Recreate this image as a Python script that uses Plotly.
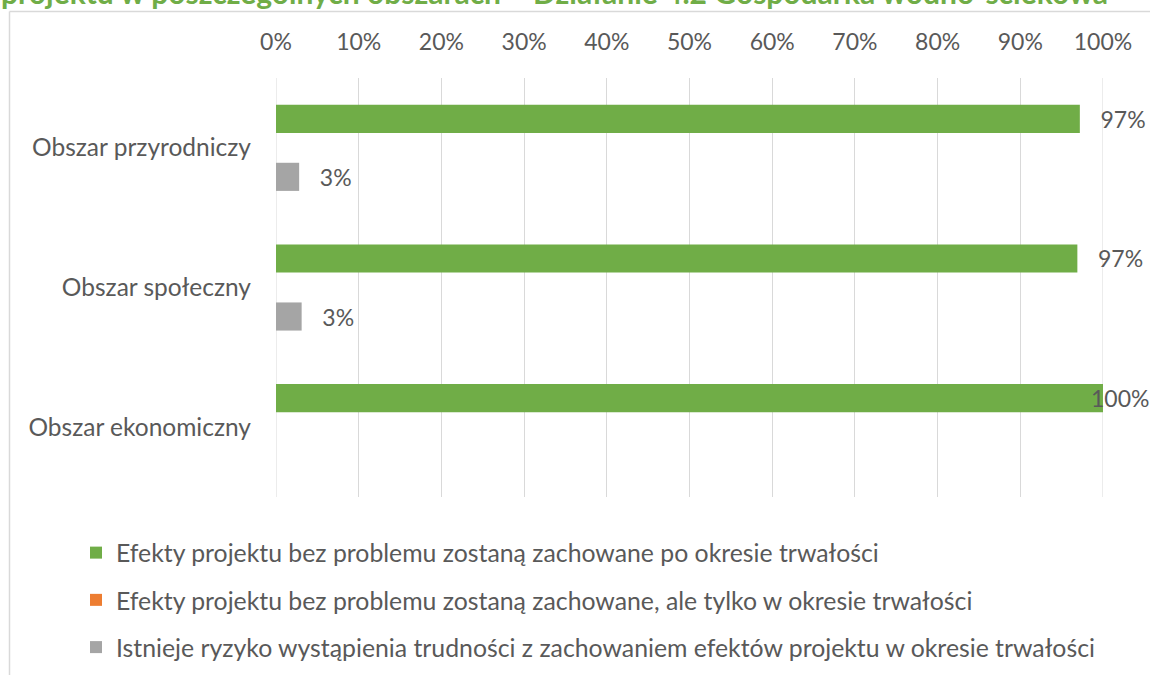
import plotly.graph_objects as go

# Share of projects per area, by expected durability of project effects
categories = ["Obszar przyrodniczy", "Obszar społeczny", "Obszar ekonomiczny"]
series_names = [
    "Efekty projektu bez problemu zostaną zachowane po okresie trwałości",
    "Efekty projektu bez problemu zostaną zachowane, ale tylko w okresie trwałości",
    "Istnieje ryzyko wystąpienia trudności z zachowaniem efektów projektu w okresie trwałości",
]
kept_after = [0.972, 0.969, 1.0]
kept_during = [0.0, 0.0, 0.0]
at_risk = [0.028, 0.031, None]
x_ticks = [i / 10 for i in range(11)]
title_text = "projektu w poszczególnych obszarach – Działanie 4.2 Gospodarka wodno-ściekowa"

colors = ["#70ad47", "#ed7d31", "#a5a5a5"]
text_color = "#595959"
grid_color = "#d9d9d9"
font_family = "Lato"

W, H = 1150, 675
M_L, M_R, M_T, M_B = 276, 47, 78, 178
plot_w = W - M_L - M_R
plot_h = H - M_T - M_B

BAND_PX = plot_h / len(categories)
BARGAP = 0.377
SLOT_PX = BAND_PX * (1 - BARGAP) / 3


def px_x(px):
    return (px - M_L) / plot_w


def px_y(py):
    return (H - M_B - py) / plot_h


def is_full(v):
    return v is not None and v >= 0.999


def label_templates(values):
    # labels sit a little away from the bar end; a full-width bar gets its
    # label as an annotation pulled back inside the chart
    out = []
    for v in values:
        out.append("" if is_full(v) else "\u00a0\u00a0\u00a0%{x:.0%}")
    return out


fig = go.Figure()
for name, vals, col, show_text in zip(
    series_names, [kept_after, kept_during, at_risk], colors, [True, False, True]
):
    fig.add_trace(
        go.Bar(
            y=categories,
            x=vals,
            name=name,
            orientation="h",
            marker=dict(color=col, line=dict(width=0)),
            texttemplate=label_templates(vals) if show_text else None,
            textposition="outside" if show_text else "none",
            textfont=dict(family=font_family, size=23, color=text_color),
            cliponaxis=False,
            legendgroup=name,
        )
    )

# label for bars that reach the right edge of the value axis
for trace_idx, vals in enumerate([kept_after, kept_during, at_risk]):
    for cat, v in zip(categories, vals):
        if is_full(v):
            fig.add_annotation(
                x=v, y=cat, xref="x", yref="y",
                text=f"{v:.0%}",
                xanchor="right", xshift=M_R + 1,
                yshift=(1 - trace_idx) * SLOT_PX,
                showarrow=False,
                font=dict(family=font_family, size=23, color=text_color),
            )

fig.update_layout(
    width=W,
    height=H,
    margin=dict(l=M_L, r=M_R, t=M_T, b=M_B, autoexpand=False),
    paper_bgcolor="white",
    plot_bgcolor="white",
    barmode="group",
    bargap=BARGAP,
    bargroupgap=0.03,
    font=dict(family=font_family, size=24, color=text_color),
    xaxis=dict(
        side="top",
        range=[0, 1],
        tickvals=x_ticks,
        tickformat=".0%",
        showgrid=True,
        gridcolor=grid_color,
        gridwidth=1,
        zeroline=False,
        showline=False,
        ticks="",
        ticklabelstandoff=22,
        tickfont=dict(size=23, color=text_color),
        fixedrange=True,
    ),
    yaxis=dict(
        categoryorder="array",
        categoryarray=categories,
        autorange="reversed",
        showgrid=False,
        zeroline=False,
        showline=False,
        ticks="",
        ticklabelstandoff=24,
        tickfont=dict(size=24.5, color=text_color),
        fixedrange=True,
    ),
    legend=dict(
        orientation="v",
        xref="container",
        yref="container",
        x=76 / W,
        y=1 - 530 / H,
        xanchor="left",
        yanchor="top",
        traceorder="grouped",
        tracegroupgap=12,
        font=dict(size=24.8, color=text_color),
        bgcolor="rgba(0,0,0,0)",
    ),
    showlegend=True,
)

# gridlines at both ends of the value axis
for xv in (x_ticks[0], x_ticks[-1]):
    fig.add_shape(
        type="line", xref="x", yref="paper",
        x0=xv, x1=xv, y0=0, y1=1,
        line=dict(color=grid_color, width=1),
        layer="below",
    )

# chart frame (top and left edges visible)
fig.add_shape(
    type="line", xref="paper", yref="paper",
    x0=px_x(9.5), x1=px_x(W + 5), y0=px_y(11.5), y1=px_y(11.5),
    line=dict(color=grid_color, width=1.5),
)
fig.add_shape(
    type="line", xref="paper", yref="paper",
    x0=px_x(9.5), x1=px_x(9.5), y0=px_y(11.5), y1=px_y(H + 5),
    line=dict(color=grid_color, width=1.5),
)

# chart title, running off the top edge
fig.add_annotation(
    text="<b>" + title_text + "</b>",
    xref="paper", yref="paper",
    x=px_x(-1), y=px_y(12),
    xanchor="left", yanchor="bottom",
    showarrow=False,
    font=dict(family=font_family, size=30, color="#70ad47"),
)

fig.write_html("out.html")
